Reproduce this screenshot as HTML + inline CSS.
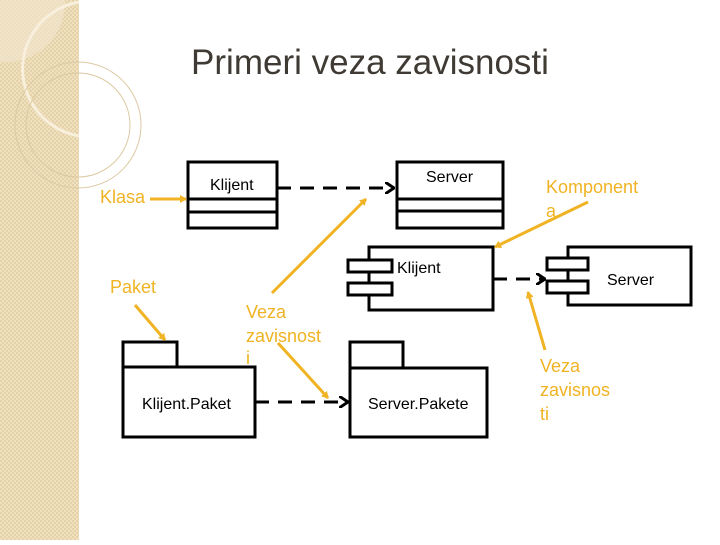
<!DOCTYPE html>
<html><head><meta charset="utf-8"><style>
body{margin:0;width:720px;height:540px;overflow:hidden;background:#fff;font-family:"Liberation Sans",sans-serif}
</style></head><body>
<svg width="720" height="540" viewBox="0 0 720 540" xmlns="http://www.w3.org/2000/svg" font-family="Liberation Sans, sans-serif">
<defs>
<pattern id="p" width="4" height="4" patternUnits="userSpaceOnUse"><rect width="4" height="4" fill="#efe0c0"/><rect width="2" height="2" fill="#e6d2a8"/><rect x="2" y="2" width="2" height="2" fill="#e6d2a8"/></pattern>
<marker id="ya" markerWidth="8" markerHeight="8" refX="6" refY="4" orient="auto" markerUnits="userSpaceOnUse"><path d="M0,0 L7,4 L0,8z" fill="#f0b323"/></marker>
<marker id="ba" markerWidth="10" markerHeight="12" refX="9" refY="6" orient="auto" markerUnits="userSpaceOnUse"><path d="M0,0 L9,6 L0,12" fill="none" stroke="#000" stroke-width="3"/></marker>
</defs>
<rect x="0" y="0" width="79" height="540" fill="url(#p)"/>
<path d="M0,0 L65,0 A60,60 0 0 1 0,62 Z" fill="#f1e6d0" opacity="0.6"/>
<path d="M79,2 A68,68 0 0 0 79,136" fill="none" stroke="#f8efdc" stroke-width="3"/>
<circle cx="78" cy="125" r="63" fill="none" stroke="#dcc9a2" stroke-width="1"/>
<circle cx="78" cy="125" r="52" fill="none" stroke="#dcc9a2" stroke-width="1"/>
<text x="370" y="74" font-size="35" fill="#3f3a33" text-anchor="middle">Primeri veza zavisnosti</text>
<g fill="none" stroke="#000" stroke-width="3">
<rect x="188" y="162" width="89" height="66" fill="#fff"/><line x1="188" y1="199" x2="277" y2="199"/><line x1="188" y1="212" x2="277" y2="212"/>
<rect x="397" y="162" width="106" height="66" fill="#fff"/><line x1="397" y1="199" x2="503" y2="199"/><line x1="397" y1="211" x2="503" y2="211"/>
<rect x="369" y="247" width="124" height="63" fill="#fff"/>
<rect x="348" y="260" width="44" height="12" fill="#fff"/><rect x="348" y="283" width="44" height="12" fill="#fff"/>
<rect x="568" y="247" width="123" height="58" fill="#fff"/>
<rect x="547" y="258" width="41" height="12" fill="#fff"/><rect x="547" y="281" width="41" height="12" fill="#fff"/>
<rect x="123" y="342" width="54" height="25" fill="#fff"/><rect x="123" y="367" width="132" height="70" fill="#fff"/>
<rect x="350" y="342" width="53" height="26" fill="#fff"/><rect x="350" y="368" width="137" height="69" fill="#fff"/>
<line x1="277" y1="188" x2="394" y2="188" stroke-dasharray="14,9" marker-end="url(#ba)"/>
<line x1="493" y1="279" x2="545" y2="279" stroke-dasharray="14,9" marker-end="url(#ba)"/>
<line x1="255" y1="402" x2="348" y2="402" stroke-dasharray="14,9" marker-end="url(#ba)"/>
</g>
<g font-size="16" fill="#000">
<text x="210" y="190">Klijent</text><text x="426" y="182">Server</text>
<text x="397" y="273">Klijent</text><text x="607" y="285">Server</text>
<text x="142" y="409">Klijent.Paket</text><text x="368" y="409">Server.Pakete</text>
</g>
<g stroke="#f0b323" stroke-width="3" fill="none">
<line x1="150" y1="199" x2="186" y2="199" marker-end="url(#ya)"/>
<line x1="135" y1="305" x2="165" y2="340" marker-end="url(#ya)"/>
<line x1="272" y1="293" x2="366" y2="199" marker-end="url(#ya)"/>
<line x1="278" y1="343" x2="328" y2="398" marker-end="url(#ya)"/>
<line x1="588" y1="202" x2="495" y2="247" marker-end="url(#ya)"/>
<line x1="545" y1="350" x2="528" y2="292" marker-end="url(#ya)"/>
</g>
<g font-size="18" fill="#f0b323">
<text x="100" y="203">Klasa</text>
<text x="110" y="293">Paket</text>
<text x="546" y="193">Komponent</text><text x="546" y="217">a</text>
<text x="246" y="318">Veza</text><text x="246" y="342">zavisnost</text><text x="246" y="364">i</text>
<text x="540" y="372">Veza</text><text x="540" y="396">zavisnos</text><text x="540" y="420">ti</text>
</g>
</svg>
</body></html>
